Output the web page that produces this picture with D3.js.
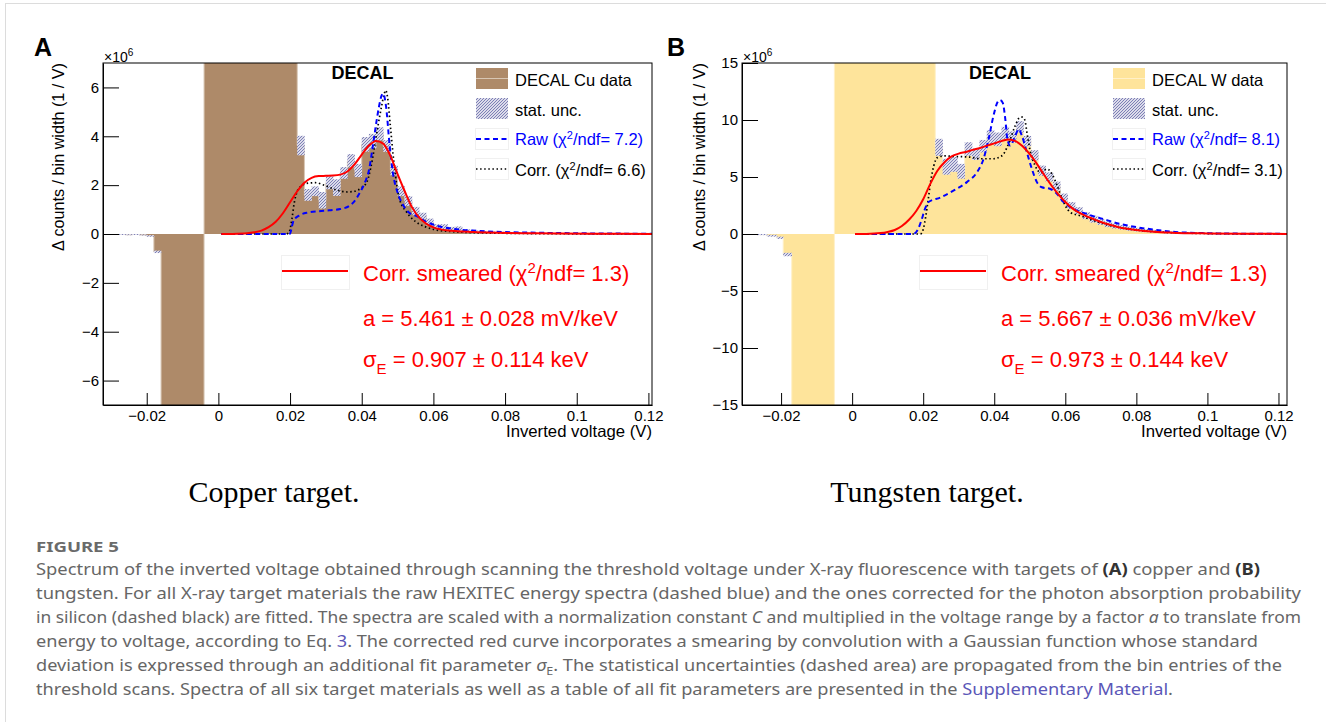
<!DOCTYPE html>
<html>
<head>
<meta charset="utf-8">
<script src="https://cdn.jsdelivr.net/npm/d3@7"></script>
<style>
body { margin: 0; background: #fff; }
svg text { font-family: "Liberation Sans", Arial, Helvetica, sans-serif; }
</style>
</head>
<body>
<svg id="fig" width="1326" height="722"></svg>
<script>
// ---------------- data: panel A, copper target (counts in units of 1e6 / V) ----------------
var cuLowEdges  = [-0.028, -0.026, -0.024, -0.022, -0.020, -0.018, -0.016, -0.004, 0.022];
var cuLowCounts = [-0.02, -0.03, -0.02, -0.04, -0.08, -0.73, -12, 14];
var cuLowErr    = [0.02, 0.02, 0.02, 0.02, 0.03, 0.05, 0, 0];
var cuBinStart = 0.022, cuBinWidth = 0.002;
var cuCounts = [3.62, 1.60, 1.75, 1.38, 2.10, 1.90, 2.50, 3.00, 2.60, 3.67,
                3.80, 4.10, 3.60, 2.60, 1.75, 1.35, 0.94, 0.73, 0.49, 0.30,
                0.30, 0.20, 0.22, 0.12, 0.10, 0.08, 0.07, 0.05, 0.05, 0.04,
                0.03, 0.03, 0.02, 0.02, 0.02, 0.01, 0.01, 0.01, 0.01, 0.01,
                0, 0, 0, 0, 0, 0, 0, 0, 0];
var cuErr = [0.40, 0.24, 0.20, 0.34, 0.27, 0.34, 0.24, 0.27, 0.27, 0.30,
             0.30, 0.27, 0.24, 0.20, 0.20, 0.20, 0.17, 0.14, 0.14, 0.10,
             0.10, 0.09, 0.09, 0.08, 0.07, 0.06, 0.05, 0.05, 0.04, 0.04,
             0.03, 0.03, 0.03, 0.02, 0.02, 0.02, 0.02, 0.02, 0.01, 0.01,
             0.01, 0.01, 0.01, 0.01, 0.01, 0.01, 0.01, 0.01, 0.01];

var cuRawX = [0.0008, 0.0195, 0.0200, 0.0205, 0.021, 0.0225, 0.025, 0.028, 0.031, 0.034, 0.0365, 0.038, 0.0395, 0.041, 0.042, 0.043, 0.044, 0.0448, 0.0455, 0.046, 0.0468, 0.0478, 0.0487, 0.0500, 0.0515, 0.053, 0.0555, 0.058, 0.062, 0.066, 0.072, 0.08, 0.09, 0.10, 0.121];
var cuRawY = [0, 0, 0.02, 0.3, 0.55, 0.75, 0.88, 0.93, 0.97, 1.02, 1.15, 1.35, 1.7, 2.15, 2.6, 3.5, 4.5, 5.2, 5.65, 5.75, 5.2, 3.6, 2.5, 1.7, 1.2, 0.9, 0.72, 0.5, 0.3, 0.2, 0.13, 0.08, 0.05, 0.03, 0.01];
var cuCorrX = [0.0008, 0.019, 0.0198, 0.0205, 0.0212, 0.022, 0.023, 0.025, 0.027, 0.030, 0.033, 0.036, 0.038, 0.040, 0.0415, 0.0425, 0.0435, 0.0445, 0.0455, 0.0462, 0.0467, 0.0472, 0.048, 0.049, 0.0505, 0.0525, 0.0553, 0.058, 0.061, 0.065, 0.07, 0.08, 0.09, 0.10, 0.121];
var cuCorrY = [0, 0, 0.1, 0.6, 1.3, 1.75, 1.95, 2.08, 2.1, 1.97, 1.8, 1.72, 1.75, 1.9, 2.15, 2.7, 3.5, 4.4, 5.2, 5.7, 5.88, 5.6, 4.4, 2.9, 1.45, 0.9, 0.48, 0.28, 0.16, 0.1, 0.06, 0.03, 0.015, 0.008, 0.003];
var cuSmearX = [0.0008, 0.004, 0.008, 0.010, 0.012, 0.014, 0.016, 0.018, 0.020, 0.022, 0.024, 0.026, 0.028, 0.030, 0.032, 0.034, 0.036, 0.038, 0.040, 0.042, 0.044, 0.046, 0.048, 0.050, 0.052, 0.054, 0.056, 0.058, 0.060, 0.062, 0.065, 0.068, 0.072, 0.078, 0.085, 0.095, 0.105, 0.121];
var cuSmearY = [0, 0.005, 0.03, 0.07, 0.14, 0.28, 0.5, 0.85, 1.3, 1.75, 2.1, 2.3, 2.37, 2.38, 2.39, 2.43, 2.56, 2.85, 3.25, 3.62, 3.81, 3.7, 3.2, 2.45, 1.75, 1.1, 0.68, 0.42, 0.27, 0.19, 0.13, 0.1, 0.075, 0.05, 0.035, 0.02, 0.01, 0.005];

// ---------------- data: panel B, tungsten target ----------------
var wLowEdges  = [-0.0268, -0.0240, -0.0212, -0.0194, -0.0170, -0.0050, 0.0234];
var wLowCounts = [-0.05, -0.15, -0.33, -1.8, -25, 25];
var wLowErr    = [0.05, 0.08, 0.10, 0.15, 0, 0];
var wBinStart = 0.0234, wBinWidth = 0.00207;
var wCounts = [7.6, 5.9, 6.1, 5.5, 7.45, 7.0, 7.7, 8.5, 8.3, 8.85,
               8.5, 9.4, 8.15, 6.9, 5.55, 5.0, 4.2, 3.2, 2.5, 2.05,
               1.6, 1.3, 1.05, 0.85, 0.7, 0.58, 0.47, 0.38, 0.3, 0.24,
               0.19, 0.15, 0.12, 0.1, 0.08, 0.06, 0.05, 0.04, 0.03, 0.03,
               0.02, 0.02, 0.01, 0.01, 0.01, 0.01, 0, 0];
var wErr = [0.75, 0.7, 0.65, 0.65, 0.6, 0.5, 0.55, 0.6, 0.6, 0.55,
            0.5, 0.5, 0.45, 0.45, 0.45, 0.4, 0.4, 0.35, 0.3, 0.3,
            0.3, 0.3, 0.25, 0.25, 0.22, 0.2, 0.18, 0.16, 0.14, 0.12,
            0.1, 0.1, 0.08, 0.08, 0.06, 0.06, 0.05, 0.05, 0.04, 0.04,
            0.03, 0.03, 0.03, 0.02, 0.02, 0.02, 0.02, 0.02];

var wRawX = [0.0008, 0.0172, 0.0185, 0.0195, 0.0205, 0.0215, 0.0248, 0.0285, 0.0323, 0.0351, 0.037, 0.0384, 0.0398, 0.0409, 0.0416, 0.0424, 0.0431, 0.0437, 0.0445, 0.0459, 0.0469, 0.0478, 0.0492, 0.0506, 0.052, 0.0534, 0.0558, 0.0577, 0.0595, 0.0623, 0.0661, 0.0708, 0.0755, 0.080, 0.085, 0.09, 0.1, 0.11, 0.1224];
var wRawY = [0, 0, 0.4, 1.2, 2.2, 2.8, 3.2, 3.8, 4.55, 5.4, 6.6, 8.3, 10.4, 11.55, 11.75, 11.5, 10.1, 8.3, 7.75, 8.6, 9.2, 8.6, 7.15, 5.7, 4.55, 4.1, 3.95, 3.5, 2.8, 2.2, 1.75, 1.3, 0.88, 0.6, 0.38, 0.2, 0.07, 0.03, 0.01];
var wCorrX = [0.0008, 0.0192, 0.0200, 0.0207, 0.0214, 0.0222, 0.023, 0.0240, 0.026, 0.029, 0.033, 0.036, 0.0398, 0.0415, 0.0426, 0.0436, 0.0445, 0.0459, 0.0471, 0.0479, 0.0486, 0.0492, 0.0501, 0.0515, 0.053, 0.0549, 0.0563, 0.0577, 0.0595, 0.0614, 0.0642, 0.068, 0.0727, 0.08, 0.09, 0.1, 0.11, 0.1224];
var wCorrY = [0, 0, 0.4, 1.5, 3.0, 4.8, 6.0, 6.7, 6.85, 6.8, 6.75, 6.6, 6.6, 6.75, 7.0, 7.6, 8.3, 9.5, 10.2, 10.25, 10.0, 8.9, 7.3, 6.0, 5.4, 5.7, 5.25, 4.25, 2.8, 1.9, 1.6, 1.17, 0.73, 0.35, 0.12, 0.04, 0.015, 0.005];
var wSmearX = [0.0008, 0.004, 0.008, 0.010, 0.012, 0.014, 0.016, 0.018, 0.020, 0.022, 0.024, 0.026, 0.028, 0.030, 0.032, 0.034, 0.036, 0.038, 0.040, 0.042, 0.044, 0.046, 0.048, 0.050, 0.052, 0.054, 0.056, 0.058, 0.060, 0.062, 0.064, 0.066, 0.068, 0.070, 0.072, 0.075, 0.080, 0.085, 0.090, 0.100, 0.110, 0.1224];
var wSmearY = [0, 0.01, 0.08, 0.18, 0.35, 0.7, 1.25, 2.0, 3.05, 4.4, 5.55, 6.3, 6.8, 7.05, 7.2, 7.38, 7.55, 7.75, 7.95, 8.15, 8.3, 8.15, 7.7, 7.0, 6.15, 5.2, 4.3, 3.5, 2.8, 2.25, 1.85, 1.55, 1.3, 1.05, 0.85, 0.6, 0.35, 0.2, 0.12, 0.05, 0.02, 0.01];

// ---------------- ticks and texts ----------------
var xTicks = [-0.02, 0, 0.02, 0.04, 0.06, 0.08, 0.1, 0.12];
var xTickLabels = ["\u22120.02", "0", "0.02", "0.04", "0.06", "0.08", "0.1", "0.12"];
var cuYTicks = [-6, -4, -2, 0, 2, 4, 6];
var wYTicks = [-15, -10, -5, 0, 5, 10, 15];

var cuLegend = ["DECAL Cu data", "stat. unc.", "7.2", "6.6"];
var wLegend = ["DECAL W data", "stat. unc.", "8.1", "3.1"];
var cuFit = ["1.3", "5.461", "0.028", "0.907", "0.114"];
var wFit = ["1.3", "5.667", "0.036", "0.973", "0.144"];

var capLines = [
  [["Spectrum of the inverted voltage obtained through scanning the threshold voltage under X-ray fluorescence with targets of "], ["(A)", "b"], [" copper and "], ["(B)", "b"]],
  [["tungsten. For all X-ray target materials the raw HEXITEC energy spectra (dashed blue) and the ones corrected for the photon absorption probability"]],
  [["in silicon (dashed black) are fitted. The spectra are scaled with a normalization constant "], ["C", "i"], [" and multiplied in the voltage range by a factor "], ["a", "i"], [" to translate from"]],
  [["energy to voltage, according to Eq. "], ["3", "link"], [". The corrected red curve incorporates a smearing by convolution with a Gaussian function whose standard"]],
  [["deviation is expressed through an additional fit parameter "], ["\u03c3", "i"], ["E", "sub"], [". The statistical uncertainties (dashed area) are propagated from the bin entries of the"]],
  [["threshold scans. Spectra of all six target materials as well as a table of all fit parameters are presented in the "], ["Supplementary Material", "link"], ["."]]
];
var capEnds = [1260, 1301, 1301, 1258, 1282, 1173];

// ---------------- drawing ----------------
var svg = d3.select("#fig");
svg.append("rect").attr("width", 1326).attr("height", 722).attr("fill", "#fff");
svg.append("line").attr("x1", 5).attr("x2", 1326).attr("y1", 3.5).attr("y2", 3.5).attr("stroke", "#dcdcdc");
svg.append("line").attr("x1", 5.5).attr("x2", 5.5).attr("y1", 3).attr("y2", 722).attr("stroke", "#dcdcdc");

var defs = svg.append("defs");
var pat = defs.append("pattern").attr("id", "hatch").attr("patternUnits", "userSpaceOnUse")
  .attr("width", 3).attr("height", 3);
pat.append("rect").attr("width", 3).attr("height", 3).attr("fill", "#dcdcea");
pat.append("path").attr("d", "M0,3 L3,0 M-1,1 L1,-1 M2,4 L4,2")
  .attr("stroke", "#6567a8").attr("stroke-width", 0.8);

function makeBins(lowEdges, lowCounts, lowErr, start, width, counts, err) {
  var bins = [];
  for (var i = 0; i < lowCounts.length; i++) {
    bins.push({x0: lowEdges[i], x1: lowEdges[i + 1], v: lowCounts[i], e: lowErr[i]});
  }
  for (var j = 0; j < counts.length; j++) {
    bins.push({x0: start + j * width, x1: start + (j + 1) * width, v: counts[j], e: err[j]});
  }
  return bins;
}

function drawPanel(p) {
  var g = svg.append("g");
  var x = d3.scaleLinear().domain(p.xDomain).range([p.left, p.right]);
  var y = d3.scaleLinear().domain(p.yDomain).range([p.bottom, p.top]);

  defs.append("clipPath").attr("id", p.id + "clip").append("rect")
    .attr("x", p.left).attr("y", p.top)
    .attr("width", p.right - p.left).attr("height", p.bottom - p.top);
  var plot = g.append("g").attr("clip-path", "url(#" + p.id + "clip)");

  // histogram as one stepped area (bins are contiguous)
  var pts = p.bins.map(function(d) { return [d.x0, d.v]; });
  var last = p.bins[p.bins.length - 1];
  pts.push([last.x1, last.v]);
  var area = d3.area().curve(d3.curveStepAfter)
    .x(function(d) { return x(d[0]); }).y0(y(0)).y1(function(d) { return y(d[1]); });
  plot.append("path").attr("d", area(pts)).attr("fill", p.fill);
  var stepLine = d3.line().curve(d3.curveStepAfter)
    .x(function(d) { return x(d[0]); }).y(function(d) { return y(d[1]); });
  plot.append("path").attr("d", stepLine(pts)).attr("fill", "none")
    .attr("stroke", p.edge).attr("stroke-width", 1);

  // stat. unc. band
  plot.selectAll(".err").data(p.bins.filter(function(d) { return d.e > 0; })).enter().append("rect")
    .attr("x", function(d) { return x(d.x0); })
    .attr("width", function(d) { return x(d.x1) - x(d.x0) + 0.3; })
    .attr("y", function(d) { return y(d.v + d.e); })
    .attr("height", function(d) { return y(d.v - d.e) - y(d.v + d.e); })
    .attr("fill", "url(#hatch)");

  var line = d3.line().curve(d3.curveMonotoneX)
    .x(function(d) { return x(d[0]); })
    .y(function(d) { return y(d[1]); });

  plot.append("path").attr("d", line(d3.zip(p.corrX, p.corrY)))
    .attr("fill", "none").attr("stroke", "#000").attr("stroke-width", 1.7).attr("stroke-dasharray", "1.5,2.6");
  plot.append("path").attr("d", line(d3.zip(p.rawX, p.rawY)))
    .attr("fill", "none").attr("stroke", "#0000ff").attr("stroke-width", 2).attr("stroke-dasharray", "5,3.5");
  plot.append("path").attr("d", line(d3.zip(p.smearX, p.smearY)))
    .attr("fill", "none").attr("stroke", "#ff0000").attr("stroke-width", 2);

  // frame
  g.append("rect").attr("x", p.left).attr("y", p.top)
    .attr("width", p.right - p.left).attr("height", p.bottom - p.top)
    .attr("fill", "none").attr("stroke", "#000").attr("stroke-width", 1);

  // axes
  var xMinor = d3.range(-0.03, 0.1226, 0.005).filter(function(v) { return v >= p.xDomain[0] && v <= p.xDomain[1]; });
  var gx = g.append("g").attr("transform", "translate(0," + p.bottom + ")");
  gx.call(d3.axisBottom(x).tickValues(xMinor).tickFormat("").tickSizeInner(-6).tickSizeOuter(0));
  gx.call(d3.axisBottom(x).tickValues(xTicks).tickFormat(function(d, i) { return xTickLabels[i]; })
    .tickSizeInner(-12).tickSizeOuter(0).tickPadding(5));

  var yMinor = d3.range(p.yDomain[0], p.yDomain[1] + 1e-9, p.yMinorStep);
  var gy = g.append("g").attr("transform", "translate(" + p.left + ",0)");
  gy.call(d3.axisLeft(y).tickValues(yMinor).tickFormat("").tickSizeInner(-8).tickSizeOuter(0));
  gy.call(d3.axisLeft(y).tickValues(p.yTicks).tickFormat(d3.format("d"))
    .tickSizeInner(-16).tickSizeOuter(0).tickPadding(4));

  g.selectAll(".tick text").attr("font-family", "Liberation Sans, Arial, sans-serif")
    .attr("font-size", 15).attr("fill", "#000");
  g.selectAll(".domain, .tick line").attr("stroke", "#000");

  // axis titles
  g.append("text").attr("x", p.right).attr("y", 437).attr("text-anchor", "end")
    .attr("font-size", 16.5).attr("textLength", 146).attr("lengthAdjust", "spacingAndGlyphs")
    .text("Inverted voltage (V)");
  g.append("text").attr("transform", "translate(" + p.yTitleX + "," + p.top + ") rotate(-90)")
    .attr("text-anchor", "end").attr("font-size", 16.5).attr("textLength", 188).attr("lengthAdjust", "spacingAndGlyphs")
    .text("\u0394 counts / bin width (1 / V)");
  var ex = g.append("text").attr("x", p.left + 1).attr("y", 62).attr("font-size", 14);
  ex.append("tspan").text("\u00d710");
  ex.append("tspan").attr("dy", -6).attr("font-size", 10).text("6");

  // panel letter
  g.append("text").attr("x", p.letterX).attr("y", 56).attr("font-size", 25).attr("font-weight", "bold").text(p.letter);

  // DECAL label
  g.append("text").attr("x", p.decalX).attr("y", 79).attr("text-anchor", "middle")
    .attr("font-size", 18).attr("font-weight", "bold").text("DECAL");

  // legend 1
  var lx = p.legX, tx = p.legX + 39;
  g.append("rect").attr("x", lx).attr("y", 68).attr("width", 32).attr("height", 21).attr("fill", p.fill);
  g.append("line").attr("x1", lx).attr("x2", lx + 32).attr("y1", 78.5).attr("y2", 78.5).attr("stroke", p.edge);
  g.append("text").attr("x", tx).attr("y", 85.5).attr("font-size", 16.5).text(p.legend[0]);
  g.append("rect").attr("x", lx).attr("y", 98).attr("width", 32).attr("height", 21).attr("fill", "url(#hatch)");
  g.append("text").attr("x", tx).attr("y", 116).attr("font-size", 16.5).text(p.legend[1]);
  g.append("rect").attr("x", lx - 0.5).attr("y", 128.5).attr("width", 33).attr("height", 21)
    .attr("fill", "none").attr("stroke", "#f0f0f0");
  g.append("line").attr("x1", lx).attr("x2", lx + 32).attr("y1", 139).attr("y2", 139)
    .attr("stroke", "#0000ff").attr("stroke-width", 2).attr("stroke-dasharray", "5,3.5");
  var t3 = g.append("text").attr("x", tx).attr("y", 145).attr("font-size", 16.5).attr("fill", "#0000ff");
  t3.append("tspan").text("Raw (\u03c7");
  t3.append("tspan").attr("dy", -6).attr("font-size", 11).text("2");
  t3.append("tspan").attr("dy", 6).text("/ndf= " + p.legend[2] + ")");
  g.append("rect").attr("x", lx - 0.5).attr("y", 158.5).attr("width", 33).attr("height", 21)
    .attr("fill", "none").attr("stroke", "#f0f0f0");
  g.append("line").attr("x1", lx).attr("x2", lx + 32).attr("y1", 169).attr("y2", 169)
    .attr("stroke", "#000").attr("stroke-width", 1.7).attr("stroke-dasharray", "1.5,2.6");
  var t4 = g.append("text").attr("x", tx).attr("y", 175.5).attr("font-size", 16.5).attr("fill", "#000");
  t4.append("tspan").text("Corr. (\u03c7");
  t4.append("tspan").attr("dy", -6).attr("font-size", 11).text("2");
  t4.append("tspan").attr("dy", 6).text("/ndf= " + p.legend[3] + ")");

  // legend 2 (fit results)
  var rx = p.fitX;
  g.append("rect").attr("x", rx - 81.5).attr("y", 255.5).attr("width", 68).attr("height", 34)
    .attr("fill", "none").attr("stroke", "#f0f0f0");
  g.append("line").attr("x1", rx - 81).attr("x2", rx - 15).attr("y1", 271).attr("y2", 271)
    .attr("stroke", "#ff0000").attr("stroke-width", 2);
  var f1 = g.append("text").attr("x", rx).attr("y", 281).attr("font-size", 22).attr("fill", "#ff0000");
  f1.append("tspan").text("Corr. smeared (\u03c7");
  f1.append("tspan").attr("dy", -8).attr("font-size", 15).text("2");
  f1.append("tspan").attr("dy", 8).text("/ndf= " + p.fit[0] + ")");
  g.append("text").attr("x", rx).attr("y", 326).attr("font-size", 22).attr("fill", "#ff0000")
    .text("a = " + p.fit[1] + " \u00b1 " + p.fit[2] + " mV/keV");
  var f3 = g.append("text").attr("x", rx).attr("y", 367).attr("font-size", 22).attr("fill", "#ff0000");
  f3.append("tspan").text("\u03c3");
  f3.append("tspan").attr("dy", 7).attr("font-size", 15).text("E");
  f3.append("tspan").attr("dy", -7).text(" = " + p.fit[3] + " \u00b1 " + p.fit[4] + " keV");
}

drawPanel({
  id: "cu", letter: "A", letterX: 34,
  left: 103, right: 652, top: 63, bottom: 405,
  xDomain: [-0.0322, 0.121], yDomain: [-7, 7], yTicks: cuYTicks, yMinorStep: 0.5,
  yTitleX: 64, decalX: 362.5, legX: 476, fitX: 363,
  fill: "#ae8a69", edge: "#d8c6b4",
  bins: makeBins(cuLowEdges, cuLowCounts, cuLowErr, cuBinStart, cuBinWidth, cuCounts, cuErr),
  rawX: cuRawX, rawY: cuRawY, corrX: cuCorrX, corrY: cuCorrY, smearX: cuSmearX, smearY: cuSmearY,
  legend: cuLegend, fit: cuFit
});

drawPanel({
  id: "w", letter: "B", letterX: 667,
  left: 742, right: 1287, top: 63, bottom: 405,
  xDomain: [-0.031, 0.1224], yDomain: [-15, 15], yTicks: wYTicks, yMinorStep: 1,
  yTitleX: 705, decalX: 1000, legX: 1113, fitX: 1001,
  fill: "#fee49b", edge: "#fff0c8",
  bins: makeBins(wLowEdges, wLowCounts, wLowErr, wBinStart, wBinWidth, wCounts, wErr),
  rawX: wRawX, rawY: wRawY, corrX: wCorrX, corrY: wCorrY, smearX: wSmearX, smearY: wSmearY,
  legend: wLegend, fit: wFit
});

// sub captions
svg.append("text").attr("x", 274).attr("y", 502).attr("text-anchor", "middle")
  .style("font-family", "'Liberation Serif', 'Times New Roman', serif").attr("font-size", 30).text("Copper target.");
svg.append("text").attr("x", 927).attr("y", 502).attr("text-anchor", "middle")
  .style("font-family", "'Liberation Serif', 'Times New Roman', serif").attr("font-size", 30).text("Tungsten target.");

// figure caption
svg.append("text").attr("x", 36).attr("y", 552).attr("font-size", 15).attr("font-weight", "bold")
  .attr("fill", "#6a6a6a").style("font-family", "'Noto Sans', sans-serif").attr("textLength", 83)
  .attr("lengthAdjust", "spacingAndGlyphs").text("FIGURE 5");

capLines.forEach(function(segs, i) {
  var t = svg.append("text").attr("x", 36).attr("y", 575 + i * 24)
    .style("font-family", "'Noto Sans', sans-serif").attr("font-size", 16).attr("fill", "#666")
    .attr("textLength", capEnds[i] - 36).attr("lengthAdjust", "spacingAndGlyphs");
  var shifted = false;
  segs.forEach(function(s) {
    var sp = t.append("tspan").text(s[0]);
    if (shifted) { sp.attr("dy", -4); shifted = false; }
    if (s[1] === "b") sp.attr("font-weight", "bold").attr("fill", "#333");
    if (s[1] === "i") sp.attr("font-style", "italic");
    if (s[1] === "link") sp.attr("fill", "#5b57b8");
    if (s[1] === "sub") { sp.attr("dy", 4).attr("font-size", 11); shifted = true; }
  });
});
</script>
</body>
</html>
